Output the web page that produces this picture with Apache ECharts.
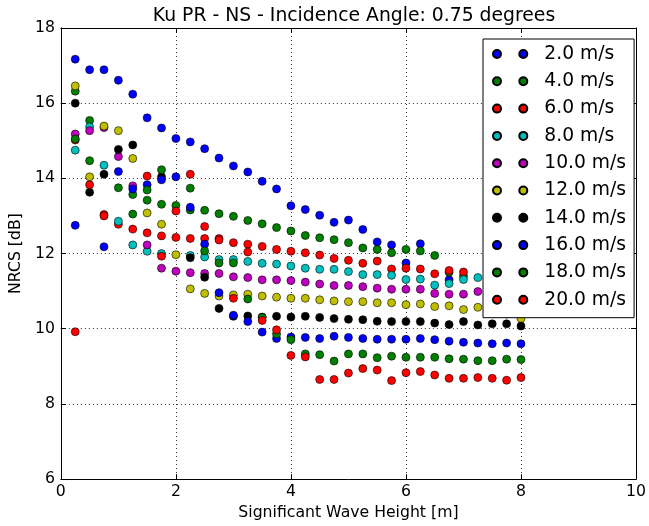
<!DOCTYPE html>
<html>
<head>
<meta charset="utf-8">
<script src="https://cdn.jsdelivr.net/npm/echarts@6/dist/echarts.min.js"></script>
<style>
  html, body { margin: 0; padding: 0; background: #ffffff; }
  #chart { width: 649px; height: 526px; }
</style>
</head>
<body>
<div id="chart"></div>
<script>
// Significant wave height bins [m]
const waveHeight = [0.25, 0.5, 0.75, 1.0, 1.25, 1.5, 1.75, 2.0, 2.25, 2.5, 2.75, 3.0, 3.25, 3.5, 3.75, 4.0,
                    4.25, 4.5, 4.75, 5.0, 5.25, 5.5, 5.75, 6.0, 6.25, 6.5, 6.75, 7.0, 7.25, 7.5, 7.75, 8.0];

// Wind speed classes
const windLabels = ['2.0 m/s', '4.0 m/s', '6.0 m/s', '8.0 m/s', '10.0 m/s',
                    '12.0 m/s', '14.0 m/s', '16.0 m/s', '18.0 m/s', '20.0 m/s'];

// Mean NRCS [dB] per wave-height bin (null = no sample)
const nrcsWind02 = [17.17, 16.89, 16.89, 16.61, 16.24, 15.61, 15.34, 15.06, 14.97, 14.79, 14.54, 14.33, 14.17, 13.92, 13.72, 13.27,
                    13.17, 13.02, 12.83, 12.89, 12.64, 12.31, 12.23, 11.75, 12.26, null, 11.30, null, null, null, null, null];
const nrcsWind04 = [16.32, 15.54, null, 13.75, 13.57, 13.42, 13.31, 13.28, 13.16, 13.15, 13.06, 12.99, 12.88, 12.79, 12.69, 12.60,
                    12.48, 12.42, 12.37, 12.29, 12.15, 12.11, 12.02, 12.11, 12.07, 11.95, 11.50, 11.40, null, null, null, null];
const nrcsWind06 = [15.02, null, 13.04, 12.78, 12.65, 12.55, 12.47, 12.43, 12.40, 12.40, 12.40, 12.29, 12.25, 12.19, 12.11, 12.06,
                    12.02, 11.96, 11.87, 11.82, 11.74, 11.80, 11.59, 11.61, 11.59, 11.46, 11.55, 11.51, null, null, null, null];
const nrcsWind08 = [14.75, 15.37, 14.35, 12.86, 12.23, 12.06, 12.00, null, 11.95, 11.91, 11.84, 11.84, 11.79, 11.74, 11.72, 11.67,
                    11.61, 11.58, 11.58, 11.52, 11.44, 11.44, 11.42, 11.31, 11.32, 11.16, 11.20, 11.31, 11.36, null, null, null];
const nrcsWind10 = [15.18, 15.27, 15.35, 14.58, 13.80, 12.23, 11.61, 11.53, 11.49, 11.47, 11.47, 11.38, 11.36, 11.30, 11.30, 11.28,
                    11.24, 11.19, 11.15, 11.15, 11.12, 11.08, 11.05, 11.05, 11.05, 10.94, 10.92, 10.92, 10.99, null, null, null];
const nrcsWind12 = [16.46, 14.04, 15.39, 15.27, 14.53, 13.08, 12.78, 11.97, 11.06, 10.94, 10.87, 10.90, 10.92, 10.87, 10.84, 10.81,
                    10.81, 10.77, 10.74, 10.72, 10.72, 10.69, 10.69, 10.64, 10.66, 10.59, 10.61, 10.51, 10.57, null, 10.39, 10.27];
const nrcsWind14 = [16.00, 13.63, 14.11, 14.77, 14.89, null, 14.04, null, 11.89, 11.37, 10.54, 10.33, 10.34, 10.31, 10.33, 10.31,
                    10.33, 10.30, 10.27, 10.25, 10.24, 10.20, 10.19, 10.19, 10.19, 10.15, 10.11, 10.19, 10.10, 10.13, 10.13, 10.07];
const nrcsWind16 = [12.75, null, 12.18, 14.18, 13.72, 13.83, 13.96, 14.04, 13.23, 12.25, 10.96, 10.36, 10.19, 9.91, 9.74, 9.78,
                    9.77, 9.74, 9.80, 9.77, 9.74, 9.72, 9.72, 9.72, 9.74, 9.71, 9.67, 9.64, 9.62, 9.60, 9.62, 9.60];
const nrcsWind18 = [15.05, 14.47, null, null, 13.05, 13.69, 14.23, null, 13.74, 12.07, 11.75, 11.75, 10.79, 10.30, 9.86, 9.71,
                    9.33, 9.31, 9.14, 9.33, 9.33, 9.23, 9.27, 9.24, 9.24, 9.24, 9.20, 9.19, 9.15, 9.15, 9.19, 9.18];
const nrcsWind20 = [9.92, 13.83, 13.00, null, null, 14.06, 11.93, 13.13, 14.11, 12.72, 12.36, 10.81, 12.04, 10.22, 9.97, 9.29,
                    9.25, 8.65, 8.65, 8.82, 8.94, 8.90, 8.62, 8.83, 8.86, 8.77, 8.68, 8.68, 8.70, 8.68, 8.63, 8.70];

const nrcsByWind = [nrcsWind02, nrcsWind04, nrcsWind06, nrcsWind08, nrcsWind10,
                    nrcsWind12, nrcsWind14, nrcsWind16, nrcsWind18, nrcsWind20];

// Classic colour cycle: b, g, r, c, m, y, k, then repeating
const markerColors = ['#0000ff', '#008000', '#ff0000', '#00bfbf', '#bf00bf',
                      '#bfbf00', '#000000', '#0000ff', '#008000', '#ff0000'];

const xTicks = [0, 2, 4, 6, 8, 10];
const yTicks = [6, 8, 10, 12, 14, 16, 18];

const FONT = 'DejaVu Sans';

// Legend key: two markers side by side
const twoDots = 'path://M0,4 A4,4 0 1,0 8,4 A4,4 0 1,0 0,4 Z M26.3,4 A4,4 0 1,0 34.3,4 A4,4 0 1,0 26.3,4 Z';

const series = windLabels.map((label, i) => ({
  name: label,
  type: 'scatter',
  symbol: 'circle',
  symbolSize: 8,
  itemStyle: { color: markerColors[i], borderColor: '#000000', borderWidth: 0.6, opacity: 1 },
  emphasis: { disabled: true },
  data: waveHeight.map((h, j) => [h, nrcsByWind[i][j]]).filter(p => p[1] !== null)
}));

const axisCommon = {
  type: 'value',
  axisLine: { show: true, onZero: false, lineStyle: { color: '#000000', width: 1 } },
  axisTick: { show: true, inside: true, length: 5, lineStyle: { color: '#000000', width: 1 } }
};

const option = {
  animation: false,
  backgroundColor: '#ffffff',
  title: {
    text: 'Ku PR - NS - Incidence Angle: 0.75 degrees',
    left: 349,
    top: 2,
    textAlign: 'center',
    textStyle: { fontFamily: FONT, fontSize: 18.8, fontWeight: 'normal', color: '#000000' }
  },
  grid: { left: 57, top: 28, width: 584, height: 456, containLabel: false },
  xAxis: [
    Object.assign({}, axisCommon, {
      position: 'bottom',
      min: xTicks[0], max: xTicks[xTicks.length - 1], interval: xTicks[1] - xTicks[0],
      name: 'Significant Wave Height [m]',
      nameLocation: 'middle',
      nameGap: 22,
      nameTextStyle: { fontFamily: FONT, fontSize: 15.7, color: '#000000' },
      axisLabel: { show: true, margin: 5, color: '#000000', fontFamily: FONT, fontSize: 15.7 },
      splitLine: { show: true, lineStyle: { color: '#000000', width: 0.8, type: [1, 3] } }
    }),
    Object.assign({}, axisCommon, {
      position: 'top',
      min: xTicks[0], max: xTicks[xTicks.length - 1], interval: xTicks[1] - xTicks[0],
      axisLabel: { show: false },
      splitLine: { show: false }
    })
  ],
  yAxis: [
    Object.assign({}, axisCommon, {
      position: 'left',
      min: yTicks[0], max: yTicks[yTicks.length - 1], interval: yTicks[1] - yTicks[0],
      name: 'NRCS [dB]',
      nameLocation: 'middle',
      nameGap: 35,
      nameTextStyle: { fontFamily: FONT, fontSize: 15.7, color: '#000000' },
      axisLabel: { show: true, margin: 6, color: '#000000', fontFamily: FONT, fontSize: 15.7 },
      splitLine: { show: true, lineStyle: { color: '#000000', width: 0.8, type: [1, 3] } }
    }),
    Object.assign({}, axisCommon, {
      position: 'right',
      min: yTicks[0], max: yTicks[yTicks.length - 1], interval: yTicks[1] - yTicks[0],
      axisLabel: { show: false },
      splitLine: { show: false }
    })
  ],
  legend: {
    orient: 'vertical',
    left: 483,
    top: 39,
    padding: [5, 8, 8, 9],
    itemGap: 7.3,
    itemWidth: 34.3,
    itemHeight: 8,
    icon: twoDots,
    selectedMode: false,
    backgroundColor: '#ffffff',
    borderColor: '#000000',
    borderWidth: 1,
    borderRadius: 0,
    textStyle: { fontFamily: FONT, fontSize: 18.7, lineHeight: 20, color: '#000000', padding: [0, 0, 0, 12] },
    data: windLabels
  },
  series: series
};

const chart = echarts.init(document.getElementById('chart'), null, { renderer: 'canvas' });
chart.setOption(option);
</script>
</body>
</html>
